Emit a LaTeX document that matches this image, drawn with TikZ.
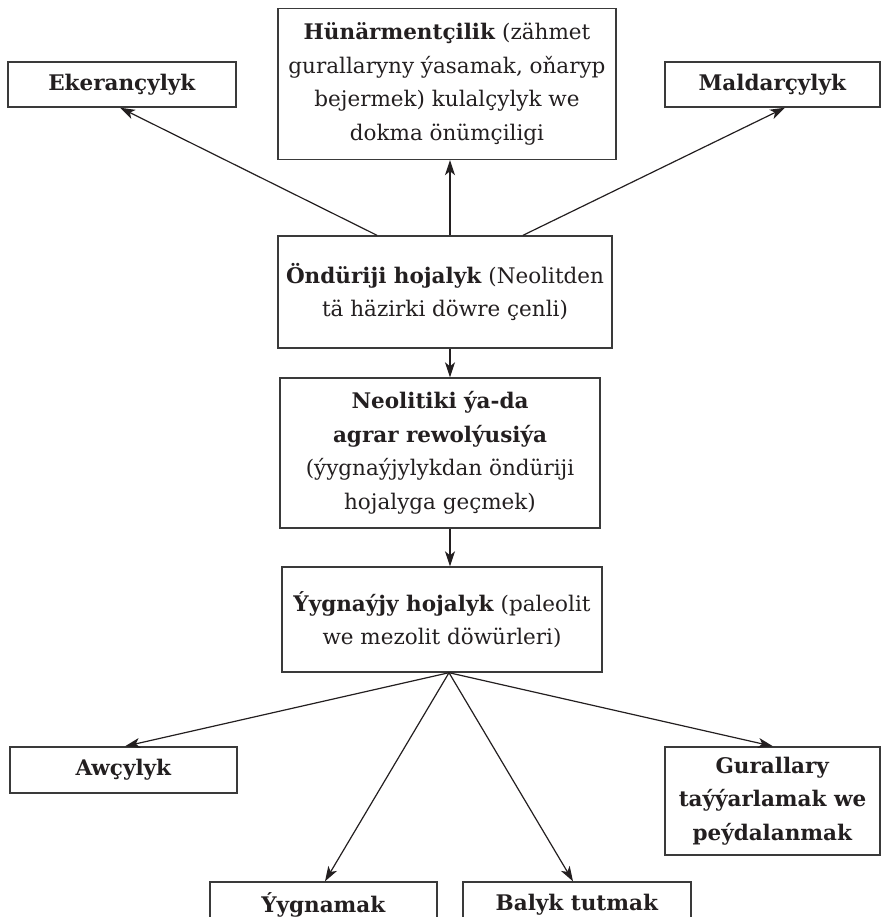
\documentclass[tikz,border=0pt]{standalone}
\usepackage{fontspec}
\setmainfont{DejaVu Serif}
\usetikzlibrary{arrows.meta}
\definecolor{boxc}{HTML}{3A3A3A}
\definecolor{txt}{HTML}{231F20}
\begin{document}
\begin{tikzpicture}[x=1pt,y=-1pt,
  box/.style={draw=boxc, line width=1.4pt, align=center, inner sep=0pt,
    font=\fontsize{21.5}{33.5}\selectfont, text=txt},
  arr/.style={draw=txt, line width=1.2pt, -{Stealth[length=15pt,width=10pt,inset=4pt]}}]
\useasboundingbox (0,0) rectangle (888,917);
\clip (0,0) rectangle (888,917);
\node[box, minimum width=228pt, minimum height=45pt] (eker) at (122,84.5) {\textbf{Ekerançylyk}};
\node[box, minimum width=338pt, minimum height=151pt] (hun) at (447,84) {\textbf{Hünärmentçilik} (zähmet\\gurallaryny ýasamak, oňaryp\\bejermek) kulalçylyk we\\dokma önümçiligi};
\node[box, minimum width=215pt, minimum height=45pt] (mal) at (772.5,84.5) {\textbf{Maldarçylyk}};
\node[box, minimum width=334pt, minimum height=112pt] (ond) at (445,292) {\textbf{Öndüriji hojalyk} (Neolitden\\tä häzirki döwre çenli)};
\node[box, minimum width=320pt, minimum height=150pt] (neo) at (440,453) {\textbf{Neolitiki ýa-da}\\\textbf{agrar rewolýusiýa}\\(ýygnaýjylykdan öndüriji\\hojalyga geçmek)};
\node[box, minimum width=320pt, minimum height=105pt] (yyg) at (442,619.5) {\textbf{Ýygnaýjy hojalyk} (paleolit\\we mezolit döwürleri)};
\node[box, minimum width=227pt, minimum height=46pt] (awc) at (123.5,770) {\textbf{Awçylyk}};
\node[box, minimum width=215pt, minimum height=108pt] (gur) at (772.5,801) {\textbf{Gurallary}\\\textbf{taýýarlamak we}\\\textbf{peýdalanmak}};
\node[box, minimum width=227pt, minimum height=46pt] (ygnm) at (323.5,905) {\textbf{Ýygnamak}};
\node[box, minimum width=228pt, minimum height=46pt] (bal) at (577,905) {\textbf{Balyk tutmak}};
% upper connectors
\draw[arr] ([xshift=-68pt]ond.north) -- ([xshift=-2pt]eker.south);
\draw[arr] ([xshift=5pt]ond.north) -- ([xshift=5pt]ond.north |- hun.south);
\draw[arr] ([xshift=78pt]ond.north) -- ([xshift=12.5pt]mal.south);
\draw[arr] ([xshift=5pt]ond.south) -- ([xshift=10pt]neo.north);
\draw[arr] ([xshift=10pt]neo.south) -- ([xshift=8pt]yyg.north);
% lower fan
\coordinate (fan) at ([xshift=7pt]yyg.south);
\draw[arr] (fan) -- ([xshift=1.5pt]awc.north);
\draw[arr] (fan) -- ([xshift=1.5pt]ygnm.north);
\draw[arr] (fan) -- ([xshift=-4pt]bal.north);
\draw[arr] (fan) -- ([xshift=0.5pt]gur.north);
\end{tikzpicture}
\end{document}
